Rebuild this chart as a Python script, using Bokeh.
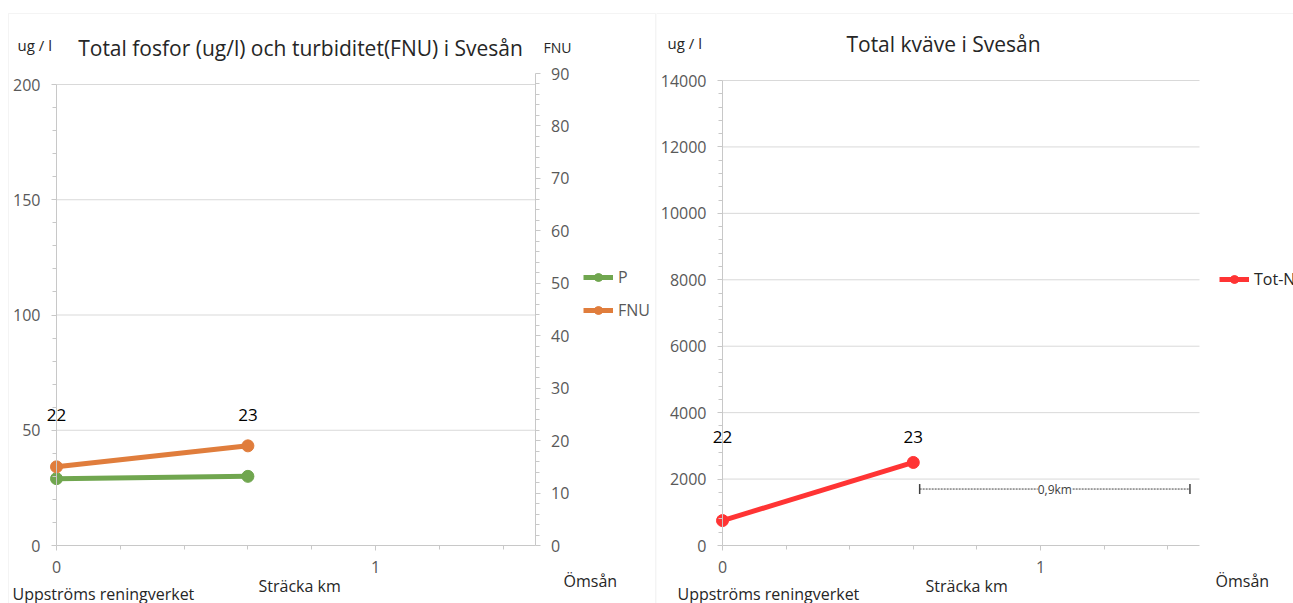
from bokeh.plotting import figure
from bokeh.models import (Range1d, LinearAxis, FixedTicker, Legend, LegendItem,
                          Label, BoxAnnotation)
from bokeh.layouts import row
from bokeh.embed import file_html
from bokeh.resources import INLINE

FONT = "Open Sans"

# Sampling stations along Svesån, distance in km from upstream of the treatment plant
distance_km = [0.0, 0.6]
station = ["22", "23"]
phosphorus = [29, 30]      # total phosphorus, ug/l
turbidity = [15, 19]       # turbidity, FNU
nitrogen = [750, 2500]     # total nitrogen, ug/l

# Axis extents and ticks
x_span = (0, 1.5)
x_major = [0, 1]
x_minor = [0.2, 0.4, 0.6, 0.8, 1.2, 1.4]
p_span = (0, 200)
p_major = [0, 50, 100, 150, 200]
p_minor = list(range(10, 200, 10))
fnu_span = (0, 90)
fnu_major = list(range(0, 100, 10))
fnu_minor = list(range(2, 90, 2))
n_span = (0, 14000)
n_major = list(range(0, 16000, 2000))
n_minor = list(range(400, 14000, 400))

GREEN = "#70a64f"
ORANGE = "#e07d3c"
RED = "#ff3434"
AXIS = "#c8c8c8"
GRID = "#d9d9d9"
TICK_TXT = "#595959"
TXT = "#262626"
H = 603


def pixel_range(v0, px0, v1, px1, size):
    """Range whose values v0, v1 land on canvas pixels px0, px1 (0..size)."""
    k = (px1 - px0) / (v1 - v0)
    return Range1d(v0 - px0 / k, v0 + (size - px0) / k)


def style_axis(ax, major, minor, standoff, bounds, loc):
    ax.ticker = FixedTicker(ticks=major, minor_ticks=minor)
    ax.fixed_location = loc
    ax.bounds = bounds
    ax.axis_line_color = AXIS
    ax.major_tick_line_color = AXIS
    ax.minor_tick_line_color = AXIS
    ax.major_tick_out = 5
    ax.major_tick_in = 0
    ax.minor_tick_out = 4
    ax.minor_tick_in = 0
    ax.major_label_text_font = FONT
    ax.major_label_text_font_size = "16px"
    ax.major_label_text_color = TICK_TXT
    ax.major_label_standoff = standoff


def base_figure(width, xr, yr):
    p = figure(width=width, height=H, x_range=xr, y_range=yr,
               output_backend="svg", toolbar_location=None,
               min_border=0)
    p.outline_line_color = None
    p.grid.visible = False
    p.background_fill_color = "white"
    p.border_fill_color = "white"
    return p


def note(p, text, x, py, size=14, align="left", color=TXT, x_units="screen"):
    p.add_layout(Label(x=x, y=H - py, x_units=x_units, y_units="screen", text=text,
                       text_font=FONT, text_font_size=f"{size}px",
                       text_align=align, text_baseline="middle",
                       text_color=color))


def frame_box(p, left, right, top):
    p.add_layout(BoxAnnotation(left=left, right=right, top=H - top, bottom=-20,
                               left_units="screen", right_units="screen",
                               top_units="screen", bottom_units="screen",
                               fill_alpha=0, line_color=GRID, line_width=1))


def legend(items, x, py):
    return Legend(items=items, location=(x, H - py), glyph_width=30,
                  glyph_height=20, label_height=20, spacing=11, padding=0,
                  margin=0, label_standoff=5, border_line_color=None,
                  background_fill_alpha=0, label_text_font=FONT,
                  label_text_font_size="16px", label_text_color=TICK_TXT)


# ---------------- Phosphorus and turbidity ----------------
W1 = 656
p1 = base_figure(W1, pixel_range(0, 56, 1, 375, W1),
                 pixel_range(0, H - 545, 200, H - 84, H))
p1.extra_y_ranges = {"fnu": pixel_range(0, H - 545, 90, H - 73, H)}
style_axis(p1.xaxis[0], x_major, x_minor, 10, x_span, 0)
style_axis(p1.yaxis[0], p_major, p_minor, 11, p_span, 0)
fnu_axis = LinearAxis(y_range_name="fnu")
style_axis(fnu_axis, fnu_major, fnu_minor, 11, fnu_span, x_span[1])
p1.add_layout(fnu_axis, "right")

p1.segment(x0=x_span[0], x1=x_span[1], y0=p_major[1:], y1=p_major[1:],
           line_color=GRID, line_width=1)

gl = p1.line(distance_km, phosphorus, line_color=GREEN, line_width=5)
gm = p1.scatter(distance_km, phosphorus, size=12, fill_color=GREEN, line_color=GREEN)
ol = p1.line(distance_km, turbidity, line_color=ORANGE, line_width=5, y_range_name="fnu")
om = p1.scatter(distance_km, turbidity, size=12, fill_color=ORANGE, line_color=ORANGE,
                y_range_name="fnu")

p1.add_layout(legend([LegendItem(label="P", renderers=[gl, gm]),
                      LegendItem(label="FNU", renderers=[ol, om])], 583, 321))

for xs, s in zip(distance_km, station):
    note(p1, s, xs, 414, size=17, align="center", x_units="data", color="black")

note(p1, "Total fosfor (ug/l) och turbiditet(FNU) i Svesån", 300, 47, size=21, align="center")
note(p1, "ug / l", 17, 44, size=15)
note(p1, "FNU", 543, 47, size=14)
note(p1, "Uppströms reningverket", 12, 593, size=16)
note(p1, "Sträcka km", 258, 585, size=16)
note(p1, "Ömsån", 563, 580, size=16)
frame_box(p1, 8, 655, 13)

# ---------------- Nitrogen ----------------
W2 = 637
X2 = 656  # page offset of the second chart
p2 = base_figure(W2, pixel_range(0, 722 - X2, 1, 1040 - X2, W2),
                 pixel_range(0, H - 545, 14000, H - 80, H))
style_axis(p2.xaxis[0], x_major, x_minor, 10, x_span, 0)
style_axis(p2.yaxis[0], n_major, n_minor, 11, n_span, 0)

p2.segment(x0=x_span[0], x1=x_span[1], y0=n_major[1:], y1=n_major[1:],
           line_color=GRID, line_width=1)

rl = p2.line(distance_km, nitrogen, line_color=RED, line_width=5)
rm = p2.scatter(distance_km, nitrogen, size=12, fill_color=RED, line_color=RED)

leg2 = legend([LegendItem(label="Tot-N", renderers=[rl, rm])], 1219 - X2, 290)
leg2.label_text_color = TXT
p2.add_layout(leg2)

for xs, s in zip(distance_km, station):
    note(p2, s, xs, 436, size=17, align="center", x_units="data", color="black")

# distance marker between station 23 and Ömsån
span_x0, span_x1, span_y = 0.62, 1.47, 1700
p2.segment(x0=[span_x0], y0=[span_y], x1=[span_x1], y1=[span_y],
           line_color="#404040", line_width=1, line_dash="2 1")
p2.segment(x0=[span_x0, span_x1], y0=[span_y - 150] * 2,
           x1=[span_x0, span_x1], y1=[span_y + 150] * 2,
           line_color="#404040", line_width=1.5)
p2.add_layout(Label(x=(span_x0 + span_x1) / 2, y=span_y, text="0,9km",
                    text_font=FONT, text_font_size="12px", text_align="center",
                    text_baseline="middle", text_color="#404040",
                    background_fill_color="white"))

note(p2, "Total kväve i Svesån", 943 - X2, 43, size=21, align="center")
note(p2, "ug / l", 667 - X2, 42, size=15)
note(p2, "Uppströms reningverket", 677 - X2, 593, size=16)
note(p2, "Sträcka km", 925 - X2, 585, size=16)
note(p2, "Ömsån", 1215 - X2, 580, size=16)
frame_box(p2, 0, 700, 13)

layout = row(p1, p2, spacing=0)
open("out.html", "w").write(file_html(layout, INLINE))
